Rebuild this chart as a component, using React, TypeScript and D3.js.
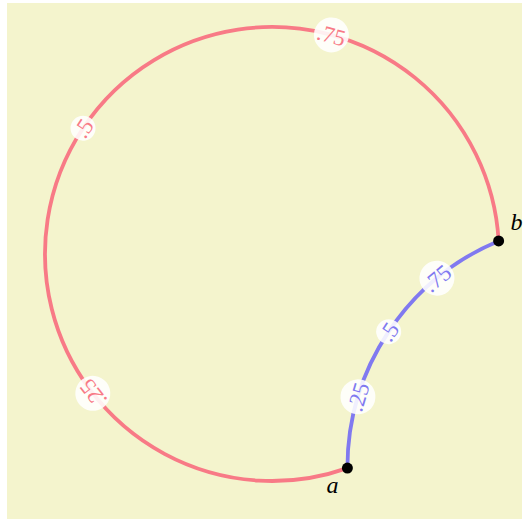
import { useEffect, useRef } from 'react';
import * as d3 from 'd3';

// endpoints, given as angles (degrees, screen convention) on the big circle
const pointNames = ['a', 'b'];
const pointAngles = [70.6, 356.7];

// positions along each path where a label sits
const markFractions = [0.25, 0.5, 0.75];
const markLabels = ['.25', '.5', '.75'];

const pathNames = ['around', 'direct'];
const pathColors = ['#f87a86', '#8079f0'];

const App = () => {
  const svgRef = useRef<SVGSVGElement | null>(null);

  useEffect(() => {
    if (!svgRef.current) return;
    d3.select(svgRef.current).selectAll('*').remove();

    const width = 528;
    const height = 519;

    const svg = d3.select(svgRef.current)
      .attr('width', width)
      .attr('height', height)
      .style('position', 'absolute')
      .style('left', 0)
      .style('top', 0);

    svg.append('rect')
      .attr('x', 7)
      .attr('y', 3)
      .attr('width', 515)
      .attr('height', 516)
      .attr('fill', '#f4f4cd');

    // unit circle -> pixels
    const x = d3.scaleLinear().domain([-1, 1]).range([45, 499]);
    const y = d3.scaleLinear().domain([-1, 1]).range([27, 481]);
    const cx = x(0), cy = y(0), r = x(1) - x(0);
    const rad = (d: number) => d * Math.PI / 180;

    const pts = pointAngles.map(d => ({
      x: x(Math.cos(rad(d))),
      y: y(Math.sin(rad(d))),
    }));
    const [a, b] = pts;

    // second circle: leaves a straight up, passes through b
    const bcx = ((b.x * b.x - a.x * a.x) + (b.y - a.y) ** 2) / (2 * (b.x - a.x));
    const bcy = a.y;
    const br = bcx - a.x;
    const bStart = Math.atan2(a.y - bcy, a.x - bcx);
    let bEnd = Math.atan2(b.y - bcy, b.x - bcx);
    if (bEnd < bStart) bEnd += 2 * Math.PI;

    const arcs = [
      { cx, cy, r, a0: rad(pointAngles[0]), a1: rad(pointAngles[1]) },
      { cx: bcx, cy: bcy, r: br, a0: bStart, a1: bEnd },
    ];

    arcs.forEach((arc, i) => {
      const p = d3.path();
      p.arc(arc.cx, arc.cy, arc.r, arc.a0, arc.a1, false);
      svg.append('path')
        .attr('class', pathNames[i])
        .attr('d', p.toString())
        .attr('fill', 'none')
        .attr('stroke', pathColors[i])
        .attr('stroke-width', 3.8);
    });

    arcs.forEach((arc, i) => {
      markFractions.forEach((f, j) => {
        const t = arc.a0 + (arc.a1 - arc.a0) * f;
        const px = arc.cx + arc.r * Math.cos(t);
        const py = arc.cy + arc.r * Math.sin(t);
        const rot = t * 180 / Math.PI + 90;
        const label = markLabels[j];
        const g = svg.append('g')
          .attr('transform', `translate(${px},${py}) rotate(${rot})`);
        g.append('circle')
          .attr('r', label.length > 2 ? 17.5 : 12.5)
          .attr('fill', '#fff')
          .attr('fill-opacity', 0.88);
        g.append('text')
          .attr('text-anchor', 'middle')
          .attr('dy', '0.35em')
          .attr('font-family', 'Liberation Serif, serif')
          .attr('font-size', 23)
          .attr('fill', pathColors[i])
          .text(label);
      });
    });

    pts.forEach(p => {
      svg.append('circle')
        .attr('cx', p.x)
        .attr('cy', p.y)
        .attr('r', 5.5)
        .attr('fill', '#000');
    });

    const offsets = [[-15, 16], [18, -19]];
    pts.forEach((p, i) => {
      svg.append('text')
        .attr('x', p.x + offsets[i][0])
        .attr('y', p.y + offsets[i][1])
        .attr('text-anchor', 'middle')
        .attr('dy', '0.35em')
        .attr('font-family', 'Liberation Serif, serif')
        .attr('font-style', 'italic')
        .attr('font-size', 24)
        .text(pointNames[i]);
    });
  }, []);

  return <svg ref={svgRef}></svg>;
};

export default App;
